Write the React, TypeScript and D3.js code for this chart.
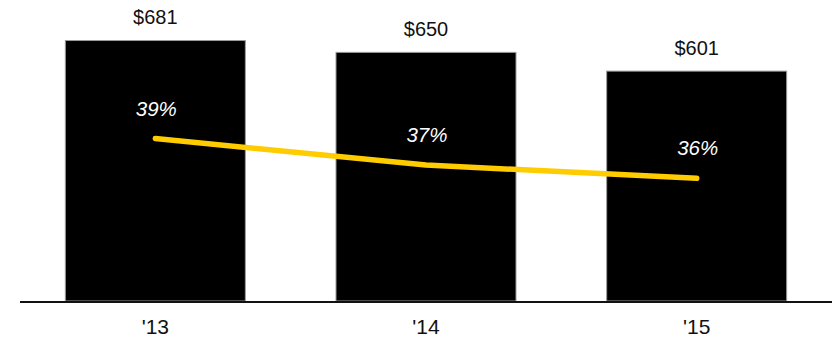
import React from "react";
import * as d3 from "d3";

// Yearly totals (bars) and margin percentage (line)
const categories: string[] = ["'13", "'14", "'15"];
const amounts: number[] = [681, 650, 601];
const percents: number[] = [39, 37, 36];

const W = 834;
const H = 338;
const FONT = "'Liberation Sans', Arial, sans-serif";

export default function App() {
  const x = d3
    .scaleBand<string>()
    .domain(categories)
    .range([20, 832])
    .paddingInner(0.335)
    .paddingOuter(0.1675);

  const baseline = 301;
  const y = d3.scaleLinear().domain([0, 700]).range([baseline, 33.25]);

  // Secondary axis for the percentage line
  const yp = d3.scaleLinear().domain([36, 39]).range([178.3, 138.6]);

  const cx = (c: string) => (x(c) ?? 0) + x.bandwidth() / 2;

  const line = d3
    .line<number>()
    .x((_, i) => cx(categories[i]))
    .y((d) => yp(d))
    .curve(d3.curveLinear);

  return (
    <svg
      width={W}
      height={H}
      style={{ position: "absolute", left: 0, top: 0, background: "#fff" }}
      fontFamily={FONT}
    >
      {categories.map((c, i) => (
        <g key={c}>
          <rect
            x={x(c)}
            y={y(amounts[i])}
            width={x.bandwidth()}
            height={baseline - y(amounts[i])}
            fill="#000"
            stroke="#9a9a9a"
            strokeWidth={1}
          />
          <text
            x={cx(c)}
            y={y(amounts[i]) - 16.5}
            textAnchor="middle"
            fontSize={20}
            fill="#111"
          >
            ${amounts[i]}
          </text>
          <text
            x={cx(c)}
            y={334}
            textAnchor="middle"
            fontSize={21}
            fill="#111"
          >
            {c}
          </text>
        </g>
      ))}

      <line x1={20} x2={832} y1={302} y2={302} stroke="#111" strokeWidth={2} />

      <path
        d={line(percents) ?? ""}
        fill="none"
        stroke="#FFCC00"
        strokeWidth={5.5}
        strokeLinecap="round"
        strokeLinejoin="round"
      />

      {categories.map((c, i) => (
        <text
          key={`p-${c}`}
          x={cx(c) + 1}
          y={yp(percents[i]) - 23}
          textAnchor="middle"
          fontSize={20.5}
          fontStyle="italic"
          fill="#fff"
        >
          {percents[i]}%
        </text>
      ))}
    </svg>
  );
}
